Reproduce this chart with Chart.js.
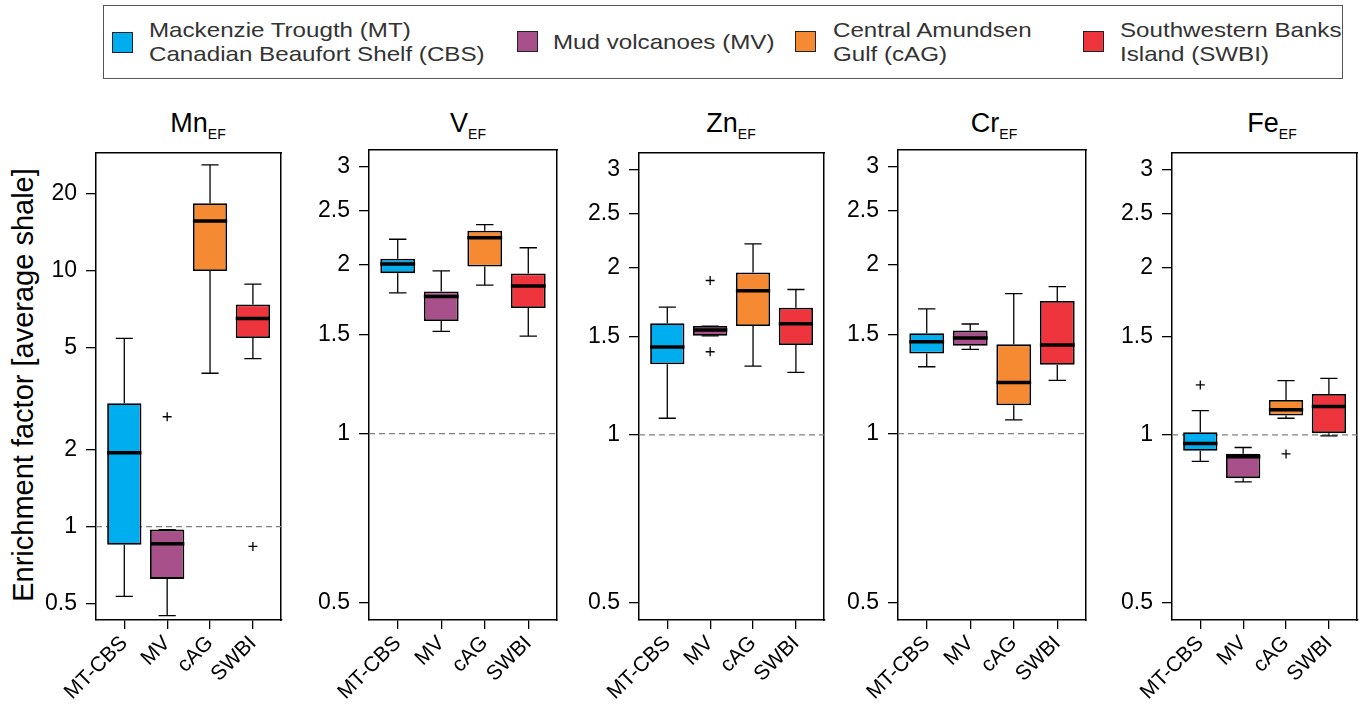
<!DOCTYPE html>
<html>
<head>
<meta charset="utf-8">
<script src="https://cdn.jsdelivr.net/npm/chart.js@4.4.1/dist/chart.umd.min.js"></script>
<style>
body { margin:0; width:1366px; height:706px; background:#fff; font-family:"Liberation Sans", Arial, sans-serif; position:relative; overflow:hidden; }
.panel { position:absolute; top:147px; }
.title { position:absolute; top:108px; width:200px; text-align:center; font-size:27px; line-height:30px; color:#000; }
.title span { font-size:14px; position:relative; top:7px; }
#legend { position:absolute; left:103px; top:5px; width:1238px; height:72px; border:1px solid #555; }
.sw { position:absolute; width:19px; height:19px; border:1.5px solid #222; }
.lt { position:absolute; font-size:21px; line-height:24px; color:#333; white-space:nowrap; transform:scaleX(1.15); transform-origin:left top; }
#ytitle { position:absolute; left:-227px; top:368px; width:500px; height:34px; line-height:34px; text-align:center; font-size:29px; color:#000; transform:rotate(-90deg); white-space:nowrap; }
</style>
</head>
<body>
<div id="legend">
  <div class="sw" style="left:8px;top:26px;background:#00AEEF"></div>
  <div class="lt" style="left:45px;top:12px">Mackenzie Trougth (MT)<br>Canadian Beaufort Shelf (CBS)</div>
  <div class="sw" style="left:413px;top:25px;background:#A8508A"></div>
  <div class="lt" style="left:449px;top:24px">Mud volcanoes (MV)</div>
  <div class="sw" style="left:691px;top:25px;background:#F58A33"></div>
  <div class="lt" style="left:729px;top:12px">Central Amundsen<br>Gulf (cAG)</div>
  <div class="sw" style="left:979px;top:25px;background:#EE343C"></div>
  <div class="lt" style="left:1016px;top:12px">Southwestern Banks<br>Island (SWBI)</div>
</div>
<div id="ytitle">Enrichment factor [average shale]</div>
<div id="charts"></div>
<script>
const groups = ['MT-CBS', 'MV', 'cAG', 'SWBI'];
const groupColors = ['#00AEEF', '#A8508A', '#F58A33', '#EE343C'];

const mnTicks = [0.5, 1, 2, 5, 10, 20];
const efTicks = [0.5, 1, 1.5, 2, 2.5, 3];

// Mn
const mnLow  = [0.533, 0.448, 3.98, 4.54];
const mnQ1   = [0.849, 0.624, 10.0, 5.47];
const mnMed  = [1.945, 0.856, 15.7, 6.52];
const mnQ3   = [3.04, 0.973, 18.4, 7.39];
const mnHigh = [5.45, 0.973, 26.0, 8.89];
const mnOut  = [[], [2.69], [], [0.836]];

// V
const vLow  = [1.784, 1.523, 1.842, 1.494];
const vQ1   = [1.935, 1.589, 1.989, 1.677];
const vMed  = [2.01, 1.758, 2.238, 1.836];
const vQ3   = [2.053, 1.794, 2.304, 1.932];
const vHigh = [2.224, 1.953, 2.362, 2.148];
const vOut  = [[], [], [], []];

// Zn
const znLow  = [1.071, 1.506, 1.329, 1.295];
const znQ1   = [1.339, 1.506, 1.568, 1.450];
const znMed  = [1.438, 1.542, 1.814, 1.583];
const znQ3   = [1.587, 1.568, 1.957, 1.691];
const znHigh = [1.696, 1.568, 2.202, 1.824];
const znOut  = [[], [1.893, 1.410], [], []];

// Cr
const crLow  = [1.317, 1.414, 1.059, 1.245];
const crQ1   = [1.391, 1.436, 1.124, 1.328];
const crMed  = [1.460, 1.482, 1.234, 1.440];
const crQ3   = [1.511, 1.528, 1.444, 1.726];
const crHigh = [1.670, 1.570, 1.779, 1.831];
const crOut  = [[], [], [], []];

// Fe
const feLow  = [0.896, 0.823, 1.071, 0.996];
const feQ1   = [0.936, 0.836, 1.083, 1.007];
const feMed  = [0.965, 0.913, 1.109, 1.124];
const feQ3   = [1.011, 0.925, 1.155, 1.184];
const feHigh = [1.105, 0.949, 1.251, 1.263];
const feOut  = [[1.229], [], [0.924], []];

const panels = [
  { name: 'Mn', left: 96,   tc: 198,  low: mnLow, q1: mnQ1, med: mnMed, q3: mnQ3, high: mnHigh, out: mnOut, ticks: mnTicks, min: 0.431, max: 29.0 },
  { name: 'V',  left: 369,  tc: 468,  low: vLow,  q1: vQ1,  med: vMed,  q3: vQ3,  high: vHigh,  out: vOut,  ticks: efTicks, min: 0.465, max: 3.21 },
  { name: 'Zn', left: 639,  tc: 731,  low: znLow, q1: znQ1, med: znMed, q3: znQ3, high: znHigh, out: znOut, ticks: efTicks, min: 0.465, max: 3.21 },
  { name: 'Cr', left: 898,  tc: 994,  low: crLow, q1: crQ1, med: crMed, q3: crQ3, high: crHigh, out: crOut, ticks: efTicks, min: 0.465, max: 3.21 },
  { name: 'Fe', left: 1172, tc: 1272, low: feLow, q1: feQ1, med: feMed, q3: feQ3, high: feHigh, out: feOut, ticks: efTicks, min: 0.465, max: 3.21 }
];

const xMin = 0.34, xMax = 4.66;
const yAxisW = 60, xAxisH = 80, plotW = 188, plotH = 470;
const gap = { x: null, y: null };

function noPad(s) {
  s.paddingTop = 0; s.paddingBottom = 0; s.paddingLeft = 0; s.paddingRight = 0;
}

function buildPanel(p) {
  const wrap = document.createElement('div');
  wrap.className = 'panel';
  wrap.style.left = (p.left - yAxisW) + 'px';
  const cv = document.createElement('canvas');
  cv.width = yAxisW + plotW + 3;
  cv.height = 3 + plotH + xAxisH;
  wrap.appendChild(cv);
  document.getElementById('charts').appendChild(wrap);

  const t = document.createElement('div');
  t.className = 'title';
  t.style.left = (p.tc - 100) + 'px';
  t.innerHTML = p.name + '<span>EF</span>';
  document.body.appendChild(t);

  const whiskers = [], caps = [], medians = [], outliers = [];
  groups.forEach((g, i) => {
    const x = i + 1;
    whiskers.push({ x: x, y: p.low[i] }, { x: x, y: p.q1[i] }, gap);
    whiskers.push({ x: x, y: p.q3[i] }, { x: x, y: p.high[i] }, gap);
    caps.push({ x: x - 0.2, y: p.low[i] }, { x: x + 0.2, y: p.low[i] }, gap);
    caps.push({ x: x - 0.2, y: p.high[i] }, { x: x + 0.2, y: p.high[i] }, gap);
    medians.push({ x: x - 0.4, y: p.med[i] }, { x: x + 0.4, y: p.med[i] }, gap);
    p.out[i].forEach(v => outliers.push({ x: x, y: v }));
  });

  new Chart(cv.getContext('2d'), {
    data: {
      datasets: [
        {
          type: 'line',
          data: [{ x: xMin, y: 1 }, { x: xMax, y: 1 }],
          borderColor: '#808080', borderWidth: 1.3, borderDash: [6, 4],
          pointRadius: 0, order: 10
        },
        {
          type: 'line', data: whiskers, borderColor: '#000', borderWidth: 1.3,
          pointRadius: 0, spanGaps: false, order: 6
        },
        {
          type: 'line', data: caps, borderColor: '#000', borderWidth: 1.3,
          pointRadius: 0, spanGaps: false, order: 5
        },
        {
          type: 'bar',
          data: groups.map((g, i) => ({ x: i + 1, y: [p.q1[i], p.q3[i]] })),
          backgroundColor: groupColors, borderColor: '#000', borderWidth: 1.8,
          borderSkipped: false, barPercentage: 0.8, categoryPercentage: 1, order: 3
        },
        {
          type: 'line', data: medians, borderColor: '#000', borderWidth: 3.5,
          borderCapStyle: 'butt', pointRadius: 0, spanGaps: false, order: 1
        },
        {
          type: 'line', data: outliers, showLine: false, pointStyle: 'cross',
          pointRadius: 4.5, borderColor: '#000', pointBorderWidth: 1.3, order: 0
        }
      ]
    },
    options: {
      responsive: false,
      animation: false,
      layout: { padding: { top: 3, right: 3, left: 0, bottom: 0 } },
      plugins: { legend: { display: false }, tooltip: { enabled: false } },
      scales: {
        x: {
          type: 'linear', position: 'bottom', min: xMin, max: xMax, offset: false,
          afterBuildTicks: s => { s.ticks = [1, 2, 3, 4].map(v => ({ value: v })); },
          afterFit: s => { s.height = xAxisH; noPad(s); },
          ticks: {
            callback: v => groups[v - 1], minRotation: 45, maxRotation: 45,
            autoSkip: false, color: '#000', padding: 2,
            font: { family: 'Liberation Sans', size: 21 }
          },
          grid: { offset: false, drawOnChartArea: false, drawTicks: true, tickLength: 9, color: '#000', lineWidth: 1.3 },
          border: { display: true, color: '#000', width: 1.5 }
        },
        y: {
          type: 'logarithmic', position: 'left', min: p.min, max: p.max,
          afterBuildTicks: s => { s.ticks = p.ticks.map(v => ({ value: v })); },
          afterFit: s => { s.width = yAxisW; noPad(s); },
          ticks: {
            callback: v => String(v), color: '#000', padding: 9, autoSkip: false,
            font: { family: 'Liberation Sans', size: 23 }
          },
          grid: { drawOnChartArea: false, drawTicks: true, tickLength: 10, color: '#000', lineWidth: 1.3 },
          border: { display: true, color: '#000', width: 1.5 }
        },
        x2: {
          type: 'linear', position: 'top', display: true, offset: false,
          afterFit: s => { s.height = 0; noPad(s); },
          ticks: { display: false }, grid: { display: false },
          border: { display: true, color: '#000', width: 1.5 }
        },
        y2: {
          type: 'linear', position: 'right', display: true,
          afterFit: s => { s.width = 0; noPad(s); },
          ticks: { display: false }, grid: { display: false },
          border: { display: true, color: '#000', width: 1.5 }
        }
      }
    }
  });
}

panels.forEach(buildPanel);
</script>
</body>
</html>
